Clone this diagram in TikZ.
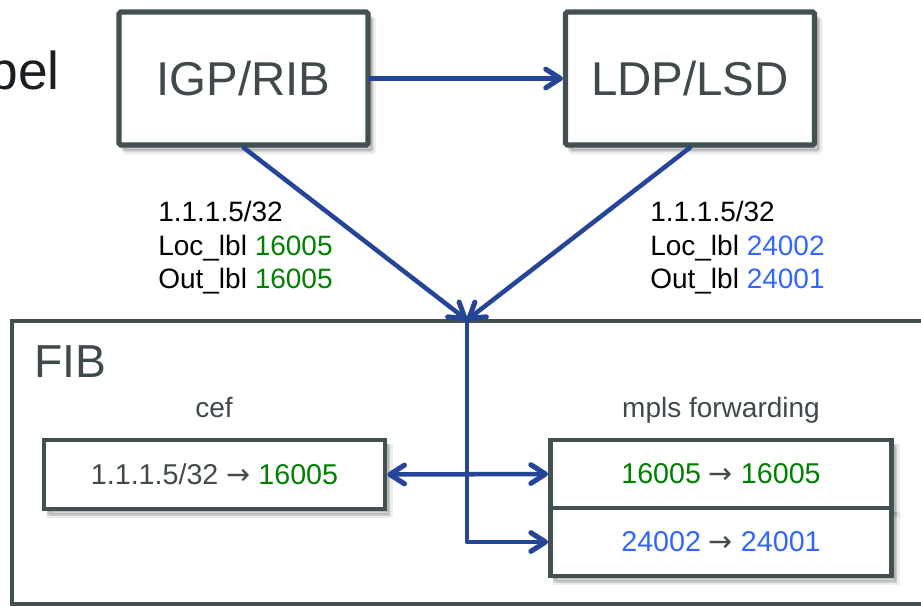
\documentclass[tikz,border=0pt]{standalone}
\usepackage{fontspec}
\setmainfont{Liberation Sans}
\newfontfamily\symfont{DejaVu Sans}
\usetikzlibrary{arrows.meta}
\definecolor{boxline}{RGB}{67,80,82}
\definecolor{boxtext}{RGB}{64,74,77}
\definecolor{flow}{RGB}{37,69,150}
\definecolor{lblgreen}{RGB}{0,128,0}
\definecolor{lblblue}{RGB}{51,102,255}
\definecolor{darktext}{RGB}{25,30,35}
\newcommand{\myarrow}{{\symfont\char"2192}}
\begin{document}
\begin{tikzpicture}[x=0.75pt,y=-0.75pt,
  softshadow/.style={
    preaction={draw=black, line width=4pt, fill=black, draw opacity=.07, fill opacity=.07, transform canvas={xshift=4pt,yshift=-5pt}},
    preaction={draw=black, line width=2pt, fill=black, draw opacity=.09, fill opacity=.09, transform canvas={xshift=3pt,yshift=-4pt}},
    preaction={draw=none, fill=black, fill opacity=.12, transform canvas={xshift=2pt,yshift=-2.5pt}}},
  bigbox/.style={draw=boxline, line width=3.8pt, fill=white, minimum width=186.75pt,
                 minimum height=99.75pt, inner sep=0pt, text=boxtext, rounded corners=1.2pt,
                 font=\fontsize{35.6}{40}\selectfont, softshadow},
  smallbox/.style={draw=boxline, line width=3.4pt, fill=white, minimum width=256pt,
                 minimum height=51pt, inner sep=0pt, text=boxtext,
                 font=\fontsize{21.5}{25}\selectfont, softshadow},
  fibbox/.style={draw=boxline, line width=3.6pt, fill=white, inner sep=0pt,
                 minimum width=711pt, minimum height=212.25pt},
  lbl/.style={anchor=base west, inner sep=0pt, text=black, font=\fontsize{21}{25}\selectfont},
  caption/.style={anchor=base, inner sep=0pt, text=boxtext, font=\fontsize{21}{25}\selectfont},
  flowline/.style={draw=flow, line width=3.4pt, line cap=round, line join=round},
  barb/.tip={Straight Barb[length=11pt,width=14pt,line width=3.8pt,line cap=round,line join=round]},
  flowarrow/.style={-barb}
]
\useasboundingbox (0,0) rectangle (921,606);
\clip (0,0) rectangle (921,606);

% partial title at left edge
\node[anchor=base east, inner sep=0pt, text=darktext, font=\fontsize{40}{44}\selectfont] (title) at (60,90) {bel};

% FIB container
\node[fibbox] (fib) at (486,462.5) {};
\node[anchor=base west, inner sep=0pt, text=boxtext, font=\fontsize{34.7}{40}\selectfont] (fibt) at (34,377) {FIB};

% top boxes
\node[bigbox] (igp) at (243.5,78.5) {IGP/RIB};
\node[bigbox] (ldp) at (690,78.5) {LDP/LSD};
\coordinate (join) at (467,320);

\draw[flowline, flowarrow] (igp.east) -- (ldp.west);
\draw[flowline, flowarrow] (igp.south) -- (join);
\draw[flowline, flowarrow] (ldp.south) -- (join);

% labels on the diagonals
\node[lbl] (ll1) at (158,222) {1.1.1.5/32};
\node[lbl] (ll2) at (158,255) {Loc\_lbl \textcolor{lblgreen}{16005}};
\node[lbl] (ll3) at (158,288) {Out\_lbl \textcolor{lblgreen}{16005}};
\node[lbl] (rl1) at (650,222) {1.1.1.5/32};
\node[lbl] (rl2) at (650,255) {Loc\_lbl \textcolor{lblblue}{24002}};
\node[lbl] (rl3) at (650,288) {Out\_lbl \textcolor{lblblue}{24001}};

% FIB content
\node[caption] (ceft) at (214,417) {cef};
\node[caption] (mplst) at (721,417) {mpls forwarding};

\node[smallbox, minimum width=255.75pt, minimum height=51.75pt] (cef) at (214.5,474.5)
  {1.1.1.5/32 \myarrow{} \textcolor{lblgreen}{16005}};
\node[smallbox] (row1) at (721,474) {\textcolor{lblgreen}{16005} \myarrow{} \textcolor{lblgreen}{16005}};
\node[smallbox] (row2) at (721,542) {\textcolor{lblblue}{24002} \myarrow{} \textcolor{lblblue}{24001}};

\draw[flowline, barb-barb] (cef.east) -- (row1.west);
\draw[flowline, flowarrow] (join) |- (row2.west);
\end{tikzpicture}
\end{document}
